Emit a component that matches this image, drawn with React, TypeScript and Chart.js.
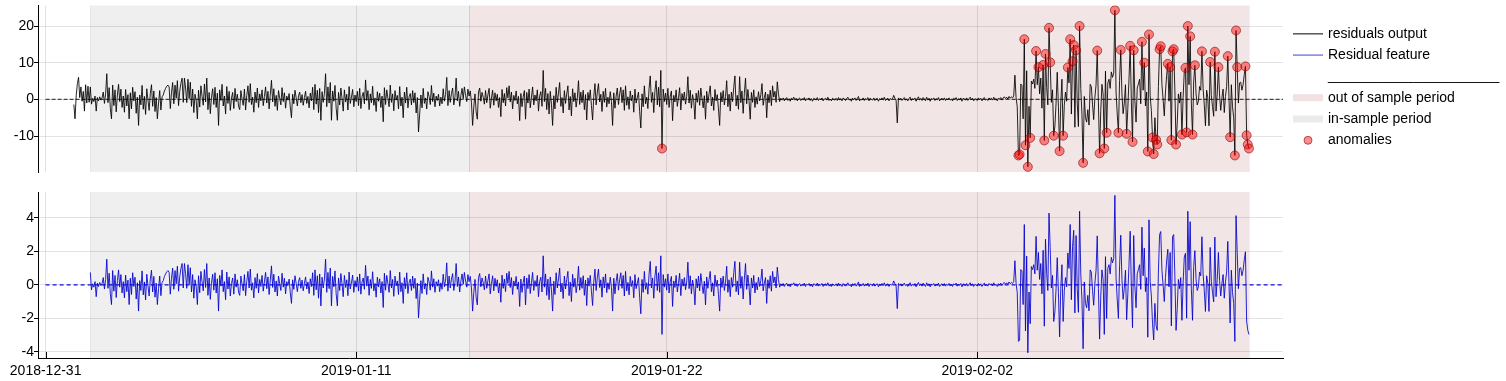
import React, { useEffect, useRef } from 'react';
import { Chart, registerables } from 'chart.js';

Chart.register(...registerables);

// ---------------- data ----------------
// x axis: days since 2018-12-31 00:00, hourly samples
const X_MIN = -0.27;
const X_MAX = 43.83;
const RESIDUALS_START_DAY = 1; // 2019-01-01 00:00
const FEATURE_START_DAY = 1 + 14 / 24; // 2019-01-01 14:00
const HOUR = 1 / 24;

const xTickDays = [0, 11, 22, 33];
const xTickLabels = ['2018-12-31', '2019-01-11', '2019-01-22', '2019-02-02'];
const topYTicks = [-10, 0, 10, 20];
const bottomYTicks = [-4, -2, 0, 2, 4];
const topYRange = [-19.8, 25.6];
const bottomYRange = [-4.36, 5.55];

const inSamplePeriod = [1 + 14 / 24, 15];
const outOfSamplePeriod = [15, 42 + 15 / 24];
const zeroLineSpan = [0, X_MAX];
const ANOMALY_THRESHOLD = 8;

const legendLabels = [
  'residuals output',
  'Residual feature',
  '______________________',
  'out of sample period',
  'in-sample period',
  'anomalies',
];

// residuals output (hourly, from 2019-01-01 00:00)
const residualsOutput = [
  -1.4,-5.3,1.0,4.3,6.0,0.5,3.4,-0.5,2.2,-3.2,4.0,-1.0,3.6,-0.8,3.4,-1.3,0.3,-0.6,0.9,-3.2,0.5,-0.4,0.7,-0.2,
  0.4,2.0,-1.1,1.5,7.0,-0.9,3.2,-2.4,-5.3,3.9,-1.7,2.6,-3.4,1.2,4.1,-0.6,2.8,-2.2,0.9,-3.5,2.7,-1.8,1.3,-5.3,
  1.8,-2.6,3.3,-0.4,2.1,-3.8,0.6,-7.1,1.2,-1.5,3.8,-2.7,0.8,-4.1,2.9,-0.2,-3.0,1.6,4.0,-1.9,2.3,-3.3,0.5,-5.3,
  -1.0,2.4,-2.9,0.7,1.2,2.3,3.0,3.6,3.9,3.4,-2.5,1.8,4.6,-1.2,3.9,0.3,5.1,-1.7,2.2,4.4,5.8,-0.8,5.8,3.1,
  -0.9,5.5,0.2,4.7,-1.9,2.8,-3.6,1.4,-0.4,-5.3,2.5,-2.1,3.7,0.8,-1.6,4.2,-0.7,5.8,-2.8,1.9,-3.9,0.6,2.9,-1.4,
  3.3,-2.2,1.7,-7.1,2.6,-0.3,4.1,-1.8,0.9,-4.0,3.5,-1.1,2.2,-3.0,0.4,1.9,-2.5,3.0,-0.6,1.4,-1.9,-2.8,2.4,0.1,
  -1.6,2.8,-2.9,1.0,3.7,-0.8,4.3,-1.4,0.6,-3.5,2.0,-0.9,3.1,-2.2,1.5,-0.4,2.6,-1.7,0.8,3.4,-1.0,2.2,-2.6,1.3,
  5.2,-0.7,2.9,-1.9,1.1,-3.0,2.4,0.3,-1.5,3.2,-0.6,1.8,-2.4,0.9,-0.2,1.6,-2.1,-5.0,1.4,-1.2,2.5,0.4,-1.8,1.0,
  2.0,-0.9,1.3,-1.6,0.5,2.2,-1.1,0.8,-2.3,1.7,-0.4,3.3,-2.8,4.1,-1.3,2.5,-3.6,3.0,-5.7,2.1,-0.8,1.6,7.0,-2.0,
  3.4,-1.0,4.6,-5.7,2.3,-0.5,3.8,-2.4,-5.7,1.9,-1.5,3.1,0.2,-3.2,2.6,-0.7,1.4,-2.9,3.5,-1.1,0.6,2.7,-2.0,1.2,
  -0.6,2.2,-1.7,3.0,-2.5,0.8,1.9,-1.2,5.3,-0.3,2.4,-2.8,1.5,-0.9,3.6,-1.6,0.4,-3.3,2.1,-0.5,1.7,-2.2,0.9,-6.1,
  3.2,-1.4,2.6,0.3,-2.0,3.9,-0.8,1.5,-3.1,2.4,-0.2,1.1,-2.6,3.5,-1.8,0.6,-5.0,2.0,-1.0,3.3,-2.3,0.7,1.6,-1.5,
  2.4,-0.9,1.8,-3.7,0.5,-8.9,-4.0,1.2,-2.3,3.0,-1.1,0.4,-2.6,2.1,0.8,-1.4,3.8,-0.6,1.7,-2.0,0.9,-0.3,1.4,-1.8,
  0.6,-1.2,2.9,-0.5,1.3,6.0,-1.7,2.4,-0.8,1.6,3.1,-1.5,0.7,5.8,-0.4,2.2,-1.9,1.0,3.0,0.2,3.4,1.1,-0.6,2.8,
  0.9,2.3,-0.8,-7.1,-2.0,1.5,-3.4,-5.4,2.0,3.1,-0.5,1.9,0.6,-1.3,2.4,-0.9,1.2,3.0,-2.4,0.3,2.5,-1.6,1.8,-0.4,
  1.4,-2.2,0.5,-4.7,2.7,-0.9,1.6,-1.8,3.2,0.4,3.7,-0.7,2.0,-2.6,1.1,-0.3,2.3,-1.2,0.8,-5.8,1.6,-2.0,0.7,2.4,
  -5.4,1.9,-1.0,2.8,-2.3,0.6,3.4,-1.5,1.2,-0.4,2.6,-3.2,0.9,2.1,-1.9,7.9,-0.6,3.0,-2.8,1.6,-4.0,2.2,-1.3,-7.1,
  1.0,-2.6,3.3,-0.8,1.7,4.6,-1.9,0.5,-3.7,2.4,-1.1,1.5,3.7,-2.9,0.8,-4.5,2.9,-0.6,1.8,-2.1,0.4,5.1,-1.4,2.0,
  -0.9,2.5,-2.8,1.3,-5.6,1.9,-0.3,2.6,-1.7,-5.6,0.8,4.3,-1.5,2.0,4.3,-0.7,1.4,-3.3,2.2,-0.8,3.0,-2.1,0.6,-1.2,
  2.1,-0.6,-7.1,1.8,-2.4,0.9,3.1,-1.4,1.5,3.3,-0.9,2.6,-3.0,3.7,-1.6,0.7,-2.7,2.3,-0.4,1.2,-3.5,2.8,-1.0,0.5,
  2.0,-3.3,-7.8,1.5,-2.0,3.7,-1.2,0.6,-2.5,2.9,6.4,-0.8,1.9,-3.6,2.4,5.1,-1.5,3.3,-2.0,7.9,-13.4,2.8,-0.6,1.7,
  -1.4,3.0,-2.2,0.9,2.3,-5.8,1.1,-0.7,2.6,-1.9,0.4,3.2,-2.9,1.6,-0.3,2.0,-1.3,0.8,6.2,-1.0,2.5,-2.4,1.3,-0.5,
  -5.4,1.7,-0.8,2.4,-1.6,3.1,0.2,-2.3,1.0,-5.4,2.2,-0.9,1.5,3.7,-1.8,0.6,-3.0,2.7,-0.4,1.3,-2.6,-7.1,1.9,-0.7,
  2.4,-1.5,0.8,5.1,-2.0,1.4,-3.2,2.0,-0.6,3.3,6.4,-1.8,1.1,-2.7,6.2,-0.9,2.3,-3.8,1.6,5.8,-1.2,2.7,-0.5,-5.4,
  1.9,-0.8,2.6,-2.2,0.7,-1.3,2.1,-0.4,1.2,4.3,-1.6,0.5,2.0,-5.0,1.4,-0.9,2.5,-1.7,3.7,0.6,2.2,-0.8,4.8,1.5,
  -0.6,0.3,-0.2,0.4,-0.4,0.1,0.5,-0.3,0.2,-0.5,0.3,0.0,0.6,-0.2,0.3,-0.4,0.1,0.4,-0.3,0.2,-0.1,0.5,-0.4,0.2,
  0.0,0.4,-0.3,0.2,-0.5,0.3,0.1,-0.2,0.5,-0.3,0.2,-0.1,0.4,-0.4,0.1,0.3,-0.2,0.6,-0.3,0.1,-0.4,0.3,0.0,-0.2,
  0.3,-0.3,0.5,-0.1,0.2,-0.4,0.4,0.0,-0.3,0.2,0.6,-0.2,0.1,-0.5,0.3,-0.1,0.4,-0.3,0.2,0.8,-0.4,0.1,-0.2,0.4,
  -0.3,0.2,-0.1,0.5,-0.4,0.3,0.0,-0.2,0.4,-0.3,0.1,0.3,-0.5,0.2,-0.1,0.4,-0.2,0.6,-0.3,0.1,0.3,-0.4,0.2,0.0,
  0.2,1.1,0.3,-0.2,-6.4,0.4,-0.1,0.3,-0.3,0.2,0.5,-0.2,0.1,-0.4,0.3,0.6,-0.3,0.2,-0.1,0.4,-0.5,0.2,0.7,-0.2,
  0.3,-0.3,0.5,0.1,-0.4,0.6,-0.2,0.3,-0.5,0.2,0.0,0.4,-0.3,0.2,-0.1,0.5,-0.4,0.1,0.3,-0.2,0.4,-0.3,0.2,-0.1,
  0.4,-0.2,0.1,-0.4,0.3,0.0,0.5,-0.3,0.2,-0.1,0.4,-0.5,0.3,0.1,-0.2,0.4,-0.3,0.2,0.6,-0.1,0.3,-0.4,0.2,0.0,
  -0.3,0.4,-0.1,0.3,-0.4,0.2,0.5,-0.2,0.1,-0.3,0.4,0.0,0.3,-0.2,0.6,-0.1,0.2,-0.4,0.3,0.1,0.5,-0.2,0.4,0.7,
  0.2,0.6,0.1,0.8,0.3,0.7,0.4,0.9,6.6,0.5,-2.0,-15.3,-15.0,4.2,3.8,-5.3,16.4,-12.5,7.8,-18.4,-1.9,-10.5,5.0,4.2,
  5.5,3.0,13.2,4.0,8.8,1.5,5.8,-2.4,9.4,-11.2,12.4,3.2,-1.5,19.5,10.1,-0.8,2.6,-9.9,-7.3,-1.0,7.4,-2.0,-14.1,-1.0,
  5.5,-9.9,-1.6,2.0,-0.5,8.7,4.5,16.4,-4.0,10.4,14.8,-7.6,13.4,-1.0,-7.4,20.0,3.0,-4.0,-17.3,0.8,-5.0,-6.2,-2.8,-7.0,
  4.1,3.5,-1.5,-5.5,0.5,4.0,13.3,-1.0,-14.7,-3.0,4.1,1.5,-13.4,7.7,-9.1,4.5,5.5,3.0,7.5,6.0,7.2,24.3,2.0,-4.0,
  -9.1,5.2,13.5,1.5,-3.9,-1.0,4.0,-9.4,-2.5,5.5,14.6,-0.5,-11.6,13.4,-0.3,-6.2,3.1,4.2,5.5,-1.2,15.7,2.5,10.0,-1.8,
  2.0,-14.2,17.7,1.0,-3.0,-10.4,-14.9,-5.0,-11.0,-12.3,3.5,13.7,14.5,4.0,0.0,-4.5,2.0,6.5,9.7,-0.5,8.8,-11.1,13.1,13.7,
  2.5,-12.3,-6.4,1.5,-1.0,2.0,-9.6,0.5,7.6,8.6,-9.0,20.0,4.0,17.2,-1.0,-9.6,5.0,9.3,1.5,-1.5,-0.5,3.5,2.5,13.1,
  3.0,-1.5,-7.2,2.5,0.5,-7.2,10.2,1.0,-2.0,-4.6,13.0,-3.2,1.5,8.8,1.2,-3.0,0.5,2.8,-3.6,0.8,3.5,11.8,0.5,-10.3,
  4.0,-2.0,-5.0,-15.3,18.8,8.8,-1.0,4.5,4.7,2.5,4.0,6.8,9.0,-9.8,-12.3,-13.4,
];

// residual feature (hourly, from 2019-01-01 14:00)
const residualFeature = [
  0.75,-0.29,0.07,-0.13,0.2,-0.7,0.11,-0.09,0.15,-0.04,
  0.09,0.44,-0.24,0.33,1.54,-0.2,0.7,-0.53,-1.17,0.86,-0.37,0.57,-0.75,0.26,0.9,-0.13,0.62,-0.48,0.2,-0.77,0.59,-0.4,0.29,-1.17,
  0.4,-0.57,0.73,-0.09,0.46,-0.84,0.13,-1.56,0.26,-0.33,0.84,-0.59,0.18,-0.9,0.64,-0.04,-0.66,0.35,0.88,-0.42,0.51,-0.73,0.11,-1.17,
  -0.22,0.53,-0.64,0.15,0.26,0.51,0.66,0.79,0.86,0.75,-0.55,0.4,1.01,-0.26,0.86,0.07,1.12,-0.37,0.48,0.97,1.28,-0.18,1.28,0.68,
  -0.2,1.21,0.04,1.03,-0.42,0.62,-0.79,0.31,-0.09,-1.17,0.55,-0.46,0.81,0.18,-0.35,0.92,-0.15,1.28,-0.62,0.42,-0.86,0.13,0.64,-0.31,
  0.73,-0.48,0.37,-1.56,0.57,-0.07,0.9,-0.4,0.2,-0.88,0.77,-0.24,0.48,-0.66,0.09,0.42,-0.55,0.66,-0.13,0.31,-0.42,-0.62,0.53,0.02,
  -0.35,0.62,-0.64,0.22,0.81,-0.18,0.95,-0.31,0.13,-0.77,0.44,-0.2,0.68,-0.48,0.33,-0.09,0.57,-0.37,0.18,0.75,-0.22,0.48,-0.57,0.29,
  1.14,-0.15,0.64,-0.42,0.24,-0.66,0.53,0.07,-0.33,0.7,-0.13,0.4,-0.53,0.2,-0.04,0.35,-0.46,-1.1,0.31,-0.26,0.55,0.09,-0.4,0.22,
  0.44,-0.2,0.29,-0.35,0.11,0.48,-0.24,0.18,-0.51,0.37,-0.09,0.73,-0.62,0.9,-0.29,0.55,-0.79,0.66,-1.25,0.46,-0.18,0.35,1.54,-0.44,
  0.75,-0.22,1.01,-1.25,0.51,-0.11,0.84,-0.53,-1.25,0.42,-0.33,0.68,0.04,-0.7,0.57,-0.15,0.31,-0.64,0.77,-0.24,0.13,0.59,-0.44,0.26,
  -0.13,0.48,-0.37,0.66,-0.55,0.18,0.42,-0.26,1.17,-0.07,0.53,-0.62,0.33,-0.2,0.79,-0.35,0.09,-0.73,0.46,-0.11,0.37,-0.48,0.2,-1.34,
  0.7,-0.31,0.57,0.07,-0.44,0.86,-0.18,0.33,-0.68,0.53,-0.04,0.24,-0.57,0.77,-0.4,0.13,-1.1,0.44,-0.22,0.73,-0.51,0.15,0.35,-0.33,
  0.53,-0.2,0.4,-0.81,0.11,-1.96,-0.88,0.26,-0.51,0.66,-0.24,0.09,-0.57,0.46,0.18,-0.31,0.84,-0.13,0.37,-0.44,0.2,-0.07,0.31,-0.4,
  0.13,-0.26,0.64,-0.11,0.29,1.32,-0.37,0.53,-0.18,0.35,0.68,-0.33,0.15,1.28,-0.09,0.48,-0.42,0.22,0.66,0.04,0.75,0.24,-0.13,0.62,
  0.2,0.51,-0.18,-1.56,-0.44,0.33,-0.75,-1.19,0.44,0.68,-0.11,0.42,0.13,-0.29,0.53,-0.2,0.26,0.66,-0.53,0.07,0.55,-0.35,0.4,-0.09,
  0.31,-0.48,0.11,-1.03,0.59,-0.2,0.35,-0.4,0.7,0.09,0.81,-0.15,0.44,-0.57,0.24,-0.07,0.51,-0.26,0.18,-1.28,0.35,-0.44,0.15,0.53,
  -1.19,0.42,-0.22,0.62,-0.51,0.13,0.75,-0.33,0.26,-0.09,0.57,-0.7,0.2,0.46,-0.42,1.74,-0.13,0.66,-0.62,0.35,-0.88,0.48,-0.29,-1.56,
  0.22,-0.57,0.73,-0.18,0.37,1.01,-0.42,0.11,-0.81,0.53,-0.24,0.33,0.81,-0.64,0.18,-0.99,0.64,-0.13,0.4,-0.46,0.09,1.12,-0.31,0.44,
  -0.2,0.55,-0.62,0.29,-1.23,0.42,-0.07,0.57,-0.37,-1.23,0.18,0.95,-0.33,0.44,0.95,-0.15,0.31,-0.73,0.48,-0.18,0.66,-0.46,0.13,-0.26,
  0.46,-0.13,-1.56,0.4,-0.53,0.2,0.68,-0.31,0.33,0.73,-0.2,0.57,-0.66,0.81,-0.35,0.15,-0.59,0.51,-0.09,0.26,-0.77,0.62,-0.22,0.11,
  0.44,-0.73,-1.72,0.33,-0.44,0.81,-0.26,0.13,-0.55,0.64,1.41,-0.18,0.42,-0.79,0.53,1.12,-0.33,0.73,-0.44,1.74,-2.95,0.62,-0.13,0.37,
  -0.31,0.66,-0.48,0.2,0.51,-1.28,0.24,-0.15,0.57,-0.42,0.09,0.7,-0.64,0.35,-0.07,0.44,-0.29,0.18,1.36,-0.22,0.55,-0.53,0.29,-0.11,
  -1.19,0.37,-0.18,0.53,-0.35,0.68,0.04,-0.51,0.22,-1.19,0.48,-0.2,0.33,0.81,-0.4,0.13,-0.66,0.59,-0.09,0.29,-0.57,-1.56,0.42,-0.15,
  0.53,-0.33,0.18,1.12,-0.44,0.31,-0.7,0.44,-0.13,0.73,1.41,-0.4,0.24,-0.59,1.36,-0.2,0.51,-0.84,0.35,1.28,-0.26,0.59,-0.11,-1.19,
  0.42,-0.18,0.57,-0.48,0.15,-0.29,0.46,-0.09,0.26,0.95,-0.35,0.11,0.44,-1.1,0.31,-0.2,0.55,-0.37,0.81,0.13,0.48,-0.18,1.06,0.33,
  -0.13,0.07,-0.04,0.09,-0.09,0.02,0.11,-0.07,0.04,-0.11,0.07,0,0.13,-0.04,0.07,-0.09,0.02,0.09,-0.07,0.04,-0.02,0.11,-0.09,0.04,
  0,0.09,-0.07,0.04,-0.11,0.07,0.02,-0.04,0.11,-0.07,0.04,-0.02,0.09,-0.09,0.02,0.07,-0.04,0.13,-0.07,0.02,-0.09,0.07,0,-0.04,
  0.07,-0.07,0.11,-0.02,0.04,-0.09,0.09,0,-0.07,0.04,0.13,-0.04,0.02,-0.11,0.07,-0.02,0.09,-0.07,0.04,0.18,-0.09,0.02,-0.04,0.09,
  -0.07,0.04,-0.02,0.11,-0.09,0.07,0,-0.04,0.09,-0.07,0.02,0.07,-0.11,0.04,-0.02,0.09,-0.04,0.13,-0.07,0.02,0.07,-0.09,0.04,0,
  0.04,0.24,0.07,-0.04,-1.41,0.09,-0.02,0.07,-0.07,0.04,0.11,-0.04,0.02,-0.09,0.07,0.13,-0.07,0.04,-0.02,0.09,-0.11,0.04,0.15,-0.04,
  0.07,-0.07,0.11,0.02,-0.09,0.13,-0.04,0.07,-0.11,0.04,0,0.09,-0.07,0.04,-0.02,0.11,-0.09,0.02,0.07,-0.04,0.09,-0.07,0.04,-0.02,
  0.09,-0.04,0.02,-0.09,0.07,0,0.11,-0.07,0.04,-0.02,0.09,-0.11,0.07,0.02,-0.04,0.09,-0.07,0.04,0.13,-0.02,0.07,-0.09,0.04,0,
  -0.07,0.09,-0.02,0.07,-0.09,0.04,0.11,-0.04,0.02,-0.07,0.09,0,0.07,-0.04,0.13,-0.02,0.04,-0.09,0.07,0.02,0.11,-0.04,0.09,0.15,
  0.04,0.13,0.02,0.18,0.07,0.15,0.09,0.2,1.45,0.11,-0.44,-3.37,-3.3,0.92,0.84,-1.17,3.61,-2.75,1.72,-4.05,-0.42,-2.31,1.1,0.92,
  1.21,0.66,2.9,0.88,1.94,0.33,1.28,-0.53,2.07,-2.46,2.73,0.7,-0.33,4.29,2.22,-0.18,0.57,-2.18,-1.61,-0.22,1.63,-0.44,-3.1,-0.22,
  1.21,-2.18,-0.35,0.44,-0.11,1.91,0.99,3.61,-0.88,2.29,3.26,-1.67,2.95,-0.22,-1.63,4.4,0.66,-0.88,-3.81,0.18,-1.1,-1.36,-0.62,-1.54,
  0.9,0.77,-0.33,-1.21,0.11,0.88,2.93,-0.22,-3.23,-0.66,0.9,0.33,-2.95,1.69,-2.0,0.99,1.21,0.66,1.65,1.32,1.58,5.35,0.44,-0.88,
  -2.0,1.14,2.97,0.33,-0.86,-0.22,0.88,-2.07,-0.55,1.21,3.21,-0.11,-2.55,2.95,-0.07,-1.36,0.68,0.92,1.21,-0.26,3.45,0.55,2.2,-0.4,
  0.44,-3.12,3.89,0.22,-0.66,-2.29,-3.28,-1.1,-2.42,-2.71,0.77,3.01,3.19,0.88,0,-0.99,0.44,1.43,2.13,-0.11,1.94,-2.44,2.88,3.01,
  0.55,-2.71,-1.41,0.33,-0.22,0.44,-2.11,0.11,1.67,1.89,-1.98,4.4,0.88,3.78,-0.22,-2.11,1.1,2.05,0.33,-0.33,-0.11,0.77,0.55,2.88,
  0.66,-0.33,-1.58,0.55,0.11,-1.58,2.24,0.22,-0.44,-1.01,2.86,-0.7,0.33,1.94,0.26,-0.66,0.11,0.62,-0.79,0.18,0.77,2.6,0.11,-2.27,
  0.88,-0.44,-1.1,-3.37,4.14,1.94,-0.22,0.99,1.03,0.55,0.88,1.5,1.98,-2.16,-2.71,-2.95,
];

// ---------------- styles ----------------
const FONT_FAMILY = "'Liberation Sans', Arial, Helvetica, sans-serif";
const GRID_COLOR = 'rgba(0,0,0,0.11)';
const IN_SAMPLE_FILL = '#efefef';
const OUT_SAMPLE_FILL = '#f2e5e5';
const BAND_EDGE = 'rgba(0,0,0,0.06)';
const RESID_COLOR = 'rgba(0,0,0,0.85)';
const FEATURE_COLOR = 'rgba(0,0,205,0.85)';
const ANOM_FILL = 'rgba(255,0,0,0.45)';
const ANOM_EDGE = 'rgba(139,0,0,0.6)';
const CHART_RIGHT = 1283;
const CANVAS_W = 1506;
const TOP_H = 180;
const BOTTOM_H = 201;

const residualPoints = residualsOutput.map((v, i) => ({ x: RESIDUALS_START_DAY + i * HOUR, y: v }));
const featurePoints = residualFeature.map((v, i) => ({ x: FEATURE_START_DAY + i * HOUR, y: v }));
const anomalyPoints = residualPoints.filter(
  (p) => p.x >= outOfSamplePeriod[0] && Math.abs(p.y) >= ANOMALY_THRESHOLD
);
const zeroLine = zeroLineSpan.map((d) => ({ x: d, y: 0 }));

const bandsPlugin = {
  id: 'periodBands',
  beforeDraw(chart: any) {
    const { ctx, chartArea: a, scales } = chart;
    const xs = scales.x;
    const bands = [
      { span: inSamplePeriod, fill: IN_SAMPLE_FILL },
      { span: outOfSamplePeriod, fill: OUT_SAMPLE_FILL },
    ];
    ctx.save();
    for (const b of bands) {
      const x0 = xs.getPixelForValue(b.span[0]);
      const x1 = xs.getPixelForValue(b.span[1]);
      ctx.fillStyle = b.fill;
      ctx.fillRect(x0, a.top, x1 - x0, a.bottom - a.top);
    }
    ctx.strokeStyle = BAND_EDGE;
    ctx.lineWidth = 1;
    for (const b of bands) {
      for (const d of b.span) {
        const px = Math.round(xs.getPixelForValue(d)) + 0.5;
        ctx.beginPath();
        ctx.moveTo(px, a.top);
        ctx.lineTo(px, a.bottom);
        ctx.stroke();
      }
    }
    ctx.restore();
  },
};

const innerTicksPlugin = {
  id: 'innerTicks',
  afterDraw(chart: any) {
    const { ctx, chartArea: a, scales } = chart;
    ctx.save();
    ctx.strokeStyle = '#000';
    ctx.lineWidth = 1;
    for (const d of xTickDays) {
      const px = Math.round(scales.x.getPixelForValue(d)) + 0.5;
      ctx.beginPath();
      ctx.moveTo(px, a.bottom - 6);
      ctx.lineTo(px, a.bottom);
      ctx.stroke();
    }
    ctx.restore();
  },
};

const legendPlugin = {
  id: 'sideLegend',
  afterDraw(chart: any) {
    const { ctx, chartArea } = chart;
    const x0 = chartArea.right + 10;
    const textX = x0 + 35;
    const rowY = (i: number) => 33.8 + i * 21.3;
    ctx.save();
    ctx.font = `14px ${FONT_FAMILY}`;
    ctx.textBaseline = 'middle';
    ctx.textAlign = 'left';
    ctx.fillStyle = '#000';
    legendLabels.forEach((label, i) => ctx.fillText(label, textX, rowY(i)));
    // line samples
    ctx.lineWidth = 1.5;
    ctx.strokeStyle = '#555';
    ctx.beginPath();
    ctx.moveTo(x0, rowY(0));
    ctx.lineTo(x0 + 30, rowY(0));
    ctx.stroke();
    ctx.strokeStyle = 'rgba(0,0,205,0.5)';
    ctx.beginPath();
    ctx.moveTo(x0, rowY(1));
    ctx.lineTo(x0 + 30, rowY(1));
    ctx.stroke();
    // patches
    ctx.fillStyle = '#f2e1e1';
    ctx.fillRect(x0, rowY(3) - 3.5, 30, 7);
    ctx.fillStyle = '#ebebeb';
    ctx.fillRect(x0, rowY(4) - 3.5, 30, 7);
    // marker
    ctx.beginPath();
    ctx.arc(x0 + 15, rowY(5), 4, 0, Math.PI * 2);
    ctx.fillStyle = ANOM_FILL;
    ctx.fill();
    ctx.lineWidth = 1;
    ctx.strokeStyle = ANOM_EDGE;
    ctx.stroke();
    ctx.restore();
  },
};

function xScale(showLabels: boolean) {
  return {
    type: 'linear',
    min: X_MIN,
    max: X_MAX,
    afterBuildTicks: (s: any) => {
      s.ticks = xTickDays.map((v) => ({ value: v }));
    },
    afterFit: (s: any) => {
      s.height = showLabels ? 23 : 0;
      s.paddingLeft = 0;
      s.paddingRight = 0;
    },
    grid: { color: GRID_COLOR, drawTicks: false, lineWidth: 1 },
    border: { display: showLabels, color: '#000', width: 1 },
    ticks: {
      display: showLabels,
      autoSkip: false,
      maxRotation: 0,
      minRotation: 0,
      padding: 5,
      color: '#000',
      font: { family: FONT_FAMILY, size: 14 },
      callback: (v: number) => {
        const i = xTickDays.indexOf(v);
        return i >= 0 ? xTickLabels[i] : '';
      },
    },
  };
}

function yScale(range: number[], ticks: number[]) {
  return {
    type: 'linear',
    min: range[0],
    max: range[1],
    afterBuildTicks: (s: any) => {
      s.ticks = ticks.map((v) => ({ value: v }));
    },
    afterFit: (s: any) => {
      s.width = 38;
      s.paddingTop = 0;
      s.paddingBottom = 0;
    },
    grid: { color: GRID_COLOR, tickColor: '#000', tickLength: 4, lineWidth: 1 },
    border: { display: true, color: '#000', width: 1 },
    ticks: {
      padding: 0,
      color: '#000',
      font: { family: FONT_FAMILY, size: 14 },
      callback: (v: number) => String(v),
    },
  };
}

const commonOptions = {
  responsive: false,
  maintainAspectRatio: false,
  animation: false,
  devicePixelRatio: 1,
  events: [],
  parsing: false,
  normalized: true,
  plugins: { legend: { display: false }, tooltip: { enabled: false } },
  elements: { line: { tension: 0, borderJoinStyle: 'round' }, point: { radius: 0 } },
};

export default function App() {
  const topRef = useRef<HTMLCanvasElement>(null);
  const bottomRef = useRef<HTMLCanvasElement>(null);

  useEffect(() => {
    Chart.defaults.font.family = FONT_FAMILY;
    Chart.defaults.font.size = 14;
    Chart.defaults.color = '#000';

    const top = new Chart(topRef.current as HTMLCanvasElement, {
      type: 'line',
      data: {
        datasets: [
          {
            label: 'anomalies',
            data: anomalyPoints,
            showLine: false,
            pointRadius: 4.5,
            pointBackgroundColor: ANOM_FILL,
            pointBorderColor: ANOM_EDGE,
            pointBorderWidth: 1,
            order: 0,
          },
          {
            label: 'zero',
            data: zeroLine,
            borderColor: 'rgba(0,0,0,0.7)',
            borderWidth: 1.2,
            borderDash: [4, 2],
            pointRadius: 0,
            order: 1,
          },
          {
            label: 'residuals output',
            data: residualPoints,
            borderColor: RESID_COLOR,
            borderWidth: 1,
            pointRadius: 0,
            order: 2,
          },
        ],
      },
      options: {
        ...commonOptions,
        layout: { padding: { left: 0, right: CANVAS_W - CHART_RIGHT, top: 5, bottom: 8 } },
        scales: { x: xScale(false), y: yScale(topYRange, topYTicks) },
      } as any,
      plugins: [bandsPlugin, legendPlugin],
    });

    const bottom = new Chart(bottomRef.current as HTMLCanvasElement, {
      type: 'line',
      data: {
        datasets: [
          {
            label: 'zero',
            data: zeroLine,
            borderColor: 'rgba(0,0,230,0.95)',
            borderWidth: 1.2,
            borderDash: [4, 3],
            pointRadius: 0,
            order: 0,
          },
          {
            label: 'Residual feature',
            data: featurePoints,
            borderColor: FEATURE_COLOR,
            borderWidth: 1,
            pointRadius: 0,
            order: 1,
          },
        ],
      },
      options: {
        ...commonOptions,
        layout: { padding: { left: 0, right: CANVAS_W - CHART_RIGHT, top: 12, bottom: 0 } },
        scales: { x: xScale(true), y: yScale(bottomYRange, bottomYTicks) },
      } as any,
      plugins: [bandsPlugin, innerTicksPlugin],
    });

    return () => {
      top.destroy();
      bottom.destroy();
    };
  }, []);

  return (
    <div
      style={{
        position: 'absolute',
        left: 0,
        top: 0,
        width: CANVAS_W,
        height: TOP_H + BOTTOM_H,
        overflow: 'hidden',
        background: '#fff',
      }}
    >
      <canvas
        ref={topRef}
        width={CANVAS_W}
        height={TOP_H}
        style={{ position: 'absolute', left: 0, top: 0, width: CANVAS_W, height: TOP_H }}
      />
      <canvas
        ref={bottomRef}
        width={CANVAS_W}
        height={BOTTOM_H}
        style={{ position: 'absolute', left: 0, top: TOP_H, width: CANVAS_W, height: BOTTOM_H }}
      />
    </div>
  );
}
